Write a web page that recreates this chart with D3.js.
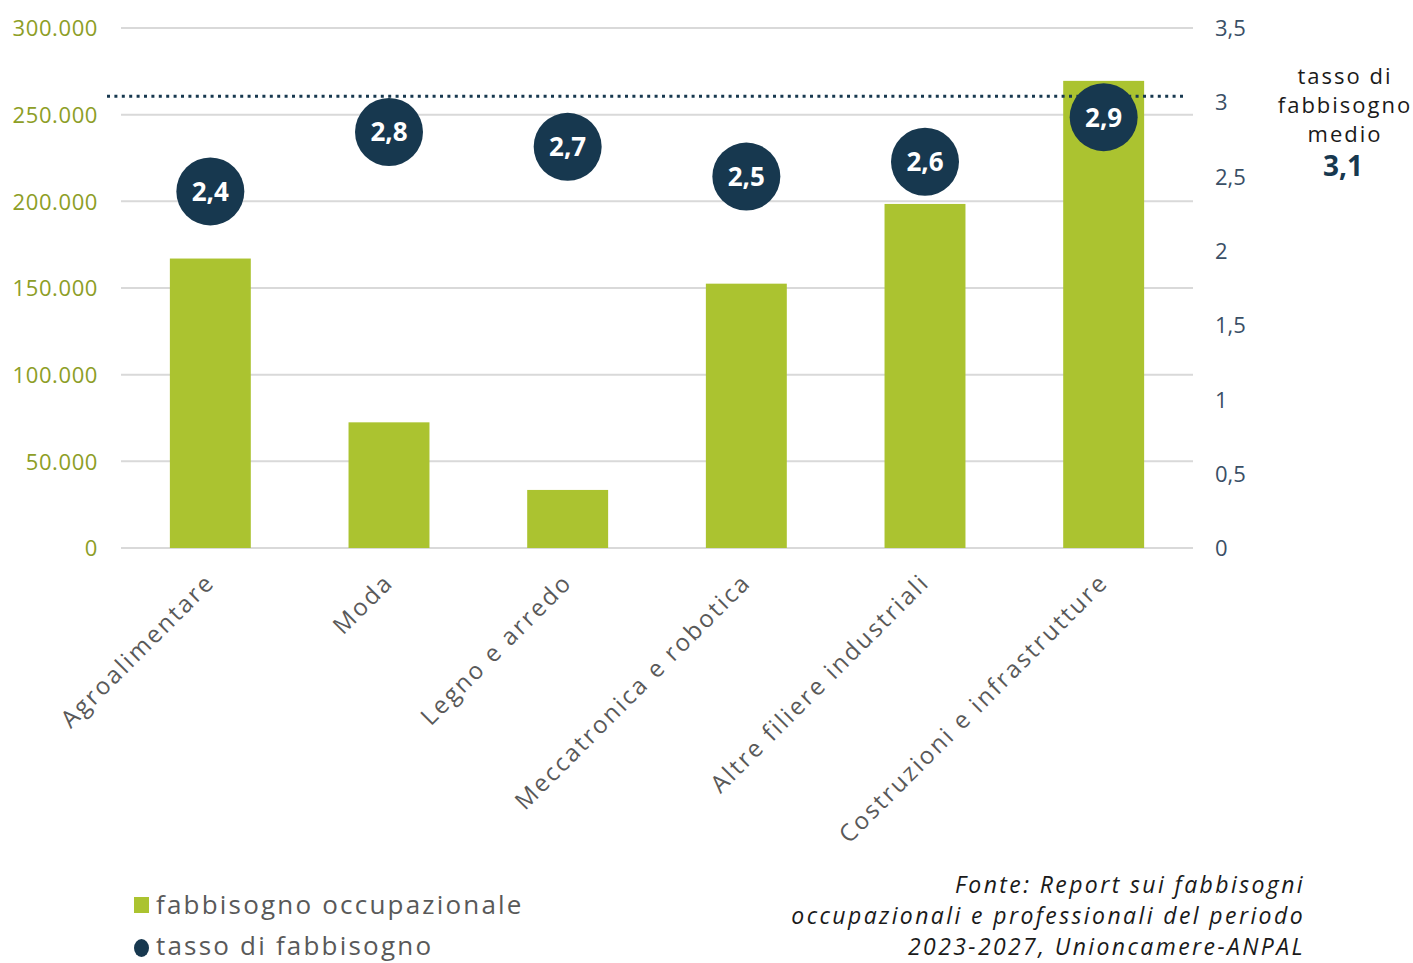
<!DOCTYPE html>
<html><head><meta charset="utf-8">
<script src="https://cdn.jsdelivr.net/npm/d3@7"></script>
<style>body{margin:0;background:#fff}svg{display:block}</style>
</head><body>
<script>
const categories = ["Agroalimentare","Moda","Legno e arredo","Meccatronica e robotica","Altre filiere industriali","Costruzioni e infrastrutture"];
const occupationalNeed = [167000, 72500, 33500, 152500, 198500, 269500];
const needRate = [2.4, 2.8, 2.7, 2.5, 2.6, 2.9];
const rateLabels = ["2,4","2,8","2,7","2,5","2,6","2,9"];
const leftTicks = [0, 50000, 100000, 150000, 200000, 250000, 300000];
const leftTickLabels = ["0","50.000","100.000","150.000","200.000","250.000","300.000"];
const rightTicks = [0, 0.5, 1, 1.5, 2, 2.5, 3, 3.5];
const rightTickLabels = ["0","0,5","1","1,5","2","2,5","3","3,5"];
const averageRate = 3.04;
const averageLabel = ["tasso di","fabbisogno","medio"];
const averageValueLabel = "3,1";
const legendLabels = ["fabbisogno occupazionale","tasso di fabbisogno"];
const sourceLines = ["Fonte: Report sui fabbisogni","occupazionali e professionali del periodo","2023-2027, Unioncamere-ANPAL"];

const W = 1413, H = 963;
const FONT = "'Open Sans', Lato, sans-serif";
const green = "#abc330", navy = "#17384f", grey = "#595959";
const svg = d3.select("body").append("svg").attr("width", W).attr("height", H)
  .style("font-family", FONT);

const x0 = 121, x1 = 1193, yTop = 28, yBot = 548;
const x = d3.scaleBand().domain(categories).range([x0, x1]).paddingInner(0.547).paddingOuter(0.2735);
const yL = d3.scaleLinear().domain([0, 300000]).range([yBot, yTop]);
const yR = d3.scaleLinear().domain([0, 3.5]).range([yBot, yTop]);

// gridlines
svg.append("g").selectAll("line").data(leftTicks).join("line")
  .attr("x1", x0).attr("x2", x1).attr("y1", d => yL(d)).attr("y2", d => yL(d))
  .attr("stroke", "#d9d9d9").attr("stroke-width", 2);

// left axis
const axL = d3.axisLeft(yL).tickValues(leftTicks).tickFormat((d,i) => leftTickLabels[i]).tickSize(0).tickPadding(0);
const gL = svg.append("g").attr("transform", `translate(98,0)`).call(axL);
gL.select(".domain").remove();
gL.selectAll("text").attr("fill", "#8d9e26").style("font-size", "22px").style("font-family", FONT)
  .style("letter-spacing", "0.6px").attr("dy", "0.35em");

// right axis
const axR = d3.axisRight(yR).tickValues(rightTicks).tickFormat((d,i) => rightTickLabels[i]).tickSize(0).tickPadding(0);
const gR = svg.append("g").attr("transform", `translate(1215,0)`).call(axR);
gR.select(".domain").remove();
gR.selectAll("text").attr("fill", "#3a4f66").style("font-size", "22px").style("font-family", FONT).attr("dy", "0.35em");

// bars
svg.append("g").selectAll("rect").data(categories).join("rect")
  .attr("x", d => x(d)).attr("width", x.bandwidth())
  .attr("y", (d,i) => yL(occupationalNeed[i]))
  .attr("height", (d,i) => yBot - yL(occupationalNeed[i]))
  .attr("fill", green);

// x labels
svg.append("g").selectAll("text").data(categories).join("text")
  .attr("transform", d => `translate(${x(d) + x.bandwidth()/2 - 6},${572}) rotate(-45)`)
  .attr("text-anchor", "end").attr("dy", "0.7em")
  .style("letter-spacing", "2.3px")
  .attr("fill", grey).style("font-size", "24px").text(d => d);

// average dotted line
svg.append("line").attr("x1", 107).attr("x2", 1183)
  .attr("y1", yR(averageRate)).attr("y2", yR(averageRate))
  .attr("stroke", navy).attr("stroke-width", 3).attr("stroke-dasharray", "3,4.4");

// rate dots
const dots = svg.append("g").selectAll("g").data(categories).join("g")
  .attr("transform", (d,i) => `translate(${x(d) + x.bandwidth()/2},${yR(needRate[i])})`);
dots.append("circle").attr("r", 34).attr("fill", navy);
dots.append("text").attr("text-anchor", "middle").attr("dy", "0.36em")
  .attr("fill", "#fff").style("font-size", "26px").style("font-weight", "700")
  .text((d,i) => rateLabels[i]);

// average annotation
const ann = svg.append("text").attr("text-anchor", "middle").attr("fill", "#1a1a1a")
  .style("font-size", "22px").style("letter-spacing", "2px");
averageLabel.forEach((t, i) => ann.append("tspan").attr("x", 1345).attr("y", 84 + i*29).text(t));
svg.append("text").attr("x", 1343).attr("y", 176).attr("text-anchor", "middle")
  .attr("fill", navy).style("font-size", "28px").style("font-weight", "700").text(averageValueLabel);

// legend
svg.append("rect").attr("x", 134).attr("y", 897).attr("width", 15).attr("height", 16).attr("fill", green);
svg.append("text").attr("x", 156).attr("y", 914).attr("fill", grey).style("font-size", "26px")
  .style("letter-spacing", "2.2px").text(legendLabels[0]);
svg.append("ellipse").attr("cx", 141.5).attr("cy", 948).attr("rx", 7.5).attr("ry", 9).attr("fill", navy);
svg.append("text").attr("x", 156).attr("y", 955).attr("fill", grey).style("font-size", "26px")
  .style("letter-spacing", "2.2px").text(legendLabels[1]);

// source
const src = svg.append("text").attr("text-anchor", "end").attr("fill", "#1a1a1a")
  .style("font-size", "23px").style("font-style", "italic").style("letter-spacing", "2.4px");
sourceLines.forEach((t, i) => src.append("tspan").attr("x", 1305).attr("y", 893 + i*31).text(t));
</script>
</body></html>
